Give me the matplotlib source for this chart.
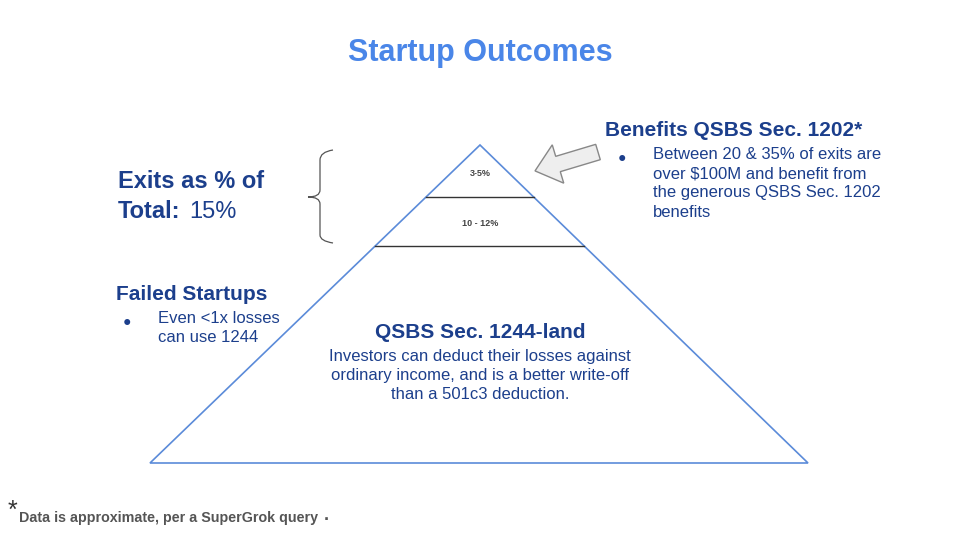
import matplotlib
matplotlib.use("Agg")
import matplotlib.pyplot as plt
from matplotlib.patches import Polygon, FancyArrow, PathPatch
from matplotlib.path import Path

title = "Startup Outcomes"
tier_labels = ["3-5%", "10 - 12%"]
tier_bottoms = [197, 246]          # pixel y of dividers
apex = (480, 145)
base_y = 463
base_x = (150, 808)

BLUE = "#4a86e8"
NAVY = "#1c3f8c"
plt.rcParams["font.family"] = "Liberation Sans"

fig = plt.figure(figsize=(9.6, 5.4), dpi=100)
ax = fig.add_axes([0, 0, 1, 1])
ax.set_xlim(0, 960); ax.set_ylim(540, 0); ax.axis("off")

ax.text(480, 53, title, color=BLUE, fontsize=22, fontweight="bold", ha="center", va="center")

ax.add_patch(Polygon([apex, (base_x[0], base_y), (base_x[1], base_y)], closed=True,
                     fill=False, edgecolor="#5b8bd9", lw=1.2))
def xs_at(y):
    t = (y - apex[1]) / (base_y - apex[1])
    return apex[0] + t * (base_x[0] - apex[0]), apex[0] + t * (base_x[1] - apex[0])
prev = apex[1]
for lab, yb in zip(tier_labels, tier_bottoms):
    l, r = xs_at(yb)
    ax.plot([l, r], [yb, yb], color="#333333", lw=1)
    ax.text(480, (prev + yb) / 2 + 2, lab, fontsize=6.5, fontweight="bold", color="#444444",
            ha="center", va="center")
    prev = yb

verts = [(333, 150), (320, 152), (320, 160), (320, 190), (320, 197), (308, 197),
         (320, 197), (320, 204), (320, 235), (320, 241), (333, 243)]
codes = [Path.MOVETO, Path.CURVE3, Path.CURVE3, Path.LINETO, Path.CURVE3, Path.CURVE3,
         Path.CURVE3, Path.CURVE3, Path.LINETO, Path.CURVE3, Path.CURVE3]
ax.add_patch(PathPatch(Path(verts, codes), fill=False, edgecolor="#555555", lw=0.9))

ax.add_patch(FancyArrow(598, 152, -40, 12, width=16, head_width=40, head_length=24,
                        facecolor="#eeeeee", edgecolor="#888888", lw=1))

ax.text(118, 182, "Exits as % of", color=NAVY, fontsize=17, fontweight="bold", va="center")
ax.text(118, 212, "Total:", color=NAVY, fontsize=17, fontweight="bold", va="center")
ax.text(189, 212, "15%", color=NAVY, fontsize=17, va="center")

ax.text(116, 295, "Failed Startups", color=NAVY, fontsize=15, fontweight="bold", va="center")
ax.text(123, 322, "●", color=NAVY, fontsize=10, va="center")
ax.text(158, 311, "Even <1x losses\ncan use 1244", color=NAVY, fontsize=12, va="top",
        linespacing=1.3)

ax.text(605, 130, "Benefits QSBS Sec. 1202*", color=NAVY, fontsize=15, fontweight="bold", va="center")
ax.text(618, 158, "●", color=NAVY, fontsize=10, va="center")
ax.text(653, 147, "Between 20 & 35% of exits are\nover $100M and benefit from\nthe generous QSBS Sec. 1202\nbenefits",
        color=NAVY, fontsize=12, va="top", linespacing=1.35)

ax.text(480, 332, "QSBS Sec. 1244-land", color=NAVY, fontsize=15, fontweight="bold",
        ha="center", va="center")
ax.text(480, 349, "Investors can deduct their losses against\nordinary income, and is a better write-off\nthan a 501c3 deduction.",
        color=NAVY, fontsize=12, ha="center", va="top", linespacing=1.35)

ax.text(8, 511, "*", color="#333333", fontsize=18, va="center")
ax.text(19, 518, "Data is approximate, per a SuperGrok query", color="#555555", fontsize=10.3,
        fontweight="bold", va="center")
ax.text(324, 516, ".", color="#555555", fontsize=13, fontweight="bold", va="center")

fig.savefig("out.png", dpi=100)
